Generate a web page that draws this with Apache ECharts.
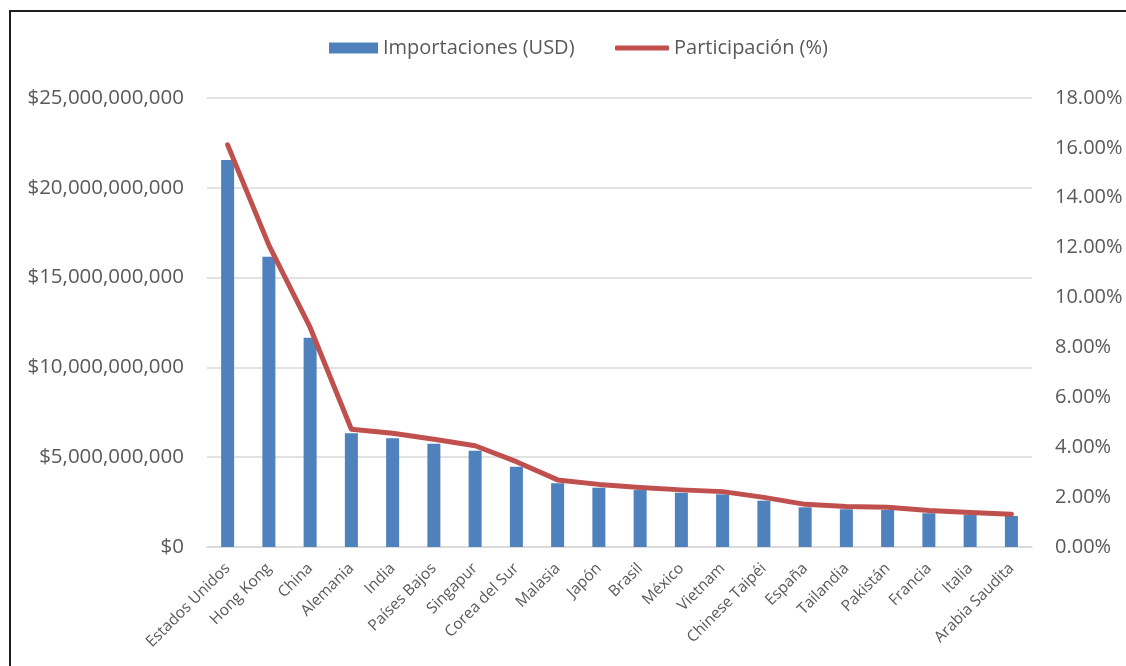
<!DOCTYPE html>
<html>
<head>
<meta charset="utf-8">
<script src="https://cdn.jsdelivr.net/npm/echarts@6/dist/echarts.min.js"></script>
<style>
  html, body { margin: 0; padding: 0; background: #fff; }
  #chart { width: 1126px; height: 666px; }
</style>
</head>
<body>
<div id="chart"></div>
<script>
// Top 20 import partners
const categories = [
  'Estados Unidos', 'Hong Kong', 'China', 'Alemania', 'India', 'Países Bajos',
  'Singapur', 'Corea del Sur', 'Malasia', 'Japón', 'Brasil', 'México',
  'Vietnam', 'Chinese Taipéi', 'España', 'Tailandia', 'Pakistán', 'Francia',
  'Italia', 'Arabia Saudita'
];

// Imports in USD
const importaciones = [
  21550000000, 16160000000, 11650000000, 6330000000, 6050000000, 5750000000,
  5360000000, 4470000000, 3550000000, 3300000000, 3170000000, 3020000000,
  2930000000, 2580000000, 2210000000, 2100000000, 2060000000, 1880000000,
  1780000000, 1730000000
];

// Share of total (%)
const participacion = [
  16.12, 12.10, 8.80, 4.72, 4.56, 4.32, 4.06, 3.42, 2.69, 2.51, 2.39, 2.29,
  2.22, 1.99, 1.71, 1.62, 1.59, 1.46, 1.38, 1.31
];

const seriesNames = ['Importaciones (USD)', 'Participación (%)'];

const FONT = '"Open Sans", "Liberation Sans", sans-serif';
const TEXT = '#595959';
const GRID = '#D9D9D9';
const BAR_COLOR = '#4F81BD';
const LINE_COLOR = '#C0504D';

const legendText = { fontFamily: FONT, fontSize: 20, color: TEXT };

const chart = echarts.init(document.getElementById('chart'), null, { renderer: 'canvas' });

chart.setOption({
  animation: false,
  backgroundColor: '#ffffff',
  textStyle: { fontFamily: FONT, color: TEXT },
  graphic: [{
    type: 'polyline',
    shape: { points: [[10, 666], [10, 11], [1126, 11]] },
    style: { stroke: '#1f1f1f', lineWidth: 2, fill: null },
    silent: true
  }],
  legend: [
    {
      top: 38,
      left: 329,
      padding: 0,
      itemWidth: 49,
      itemHeight: 11,
      textStyle: legendText,
      data: [{ name: seriesNames[0], icon: 'rect' }]
    },
    {
      top: 38,
      left: 615,
      padding: 0,
      itemWidth: 54,
      itemHeight: 5,
      textStyle: legendText,
      data: [{ name: seriesNames[1], icon: 'roundRect' }]
    }
  ],
  grid: { left: 207, right: 94, top: 98, bottom: 119, containLabel: false },
  xAxis: {
    type: 'category',
    data: categories,
    axisTick: { show: false },
    axisLine: { lineStyle: { color: GRID, width: 1.5 } },
    axisLabel: {
      rotate: 45,
      interval: 0,
      margin: 19,
      fontFamily: FONT,
      fontSize: 15.5,
      color: TEXT
    }
  },
  yAxis: [
    {
      type: 'value',
      min: 0,
      max: 25000000000,
      interval: 5000000000,
      axisLine: { show: false },
      axisTick: { show: false },
      splitLine: { lineStyle: { color: GRID, width: 1.5 } },
      axisLabel: {
        margin: 23,
        fontFamily: FONT,
        fontSize: 20.5,
        color: TEXT,
        formatter: v => '$' + v.toLocaleString('en-US')
      }
    },
    {
      type: 'value',
      min: 0,
      max: 18,
      interval: 2,
      position: 'right',
      axisLine: { show: false },
      axisTick: { show: false },
      splitLine: { show: false },
      axisLabel: {
        margin: 23,
        fontFamily: FONT,
        fontSize: 20,
        color: TEXT,
        formatter: v => v.toFixed(2) + '%'
      }
    }
  ],
  series: [
    {
      name: seriesNames[0],
      type: 'bar',
      yAxisIndex: 0,
      data: importaciones,
      barWidth: 13,
      itemStyle: { color: BAR_COLOR }
    },
    {
      name: seriesNames[1],
      type: 'line',
      yAxisIndex: 1,
      data: participacion,
      symbol: 'none',
      lineStyle: { color: LINE_COLOR, width: 5, cap: 'round', join: 'round' },
      itemStyle: { color: LINE_COLOR }
    }
  ]
});
</script>
</body>
</html>
